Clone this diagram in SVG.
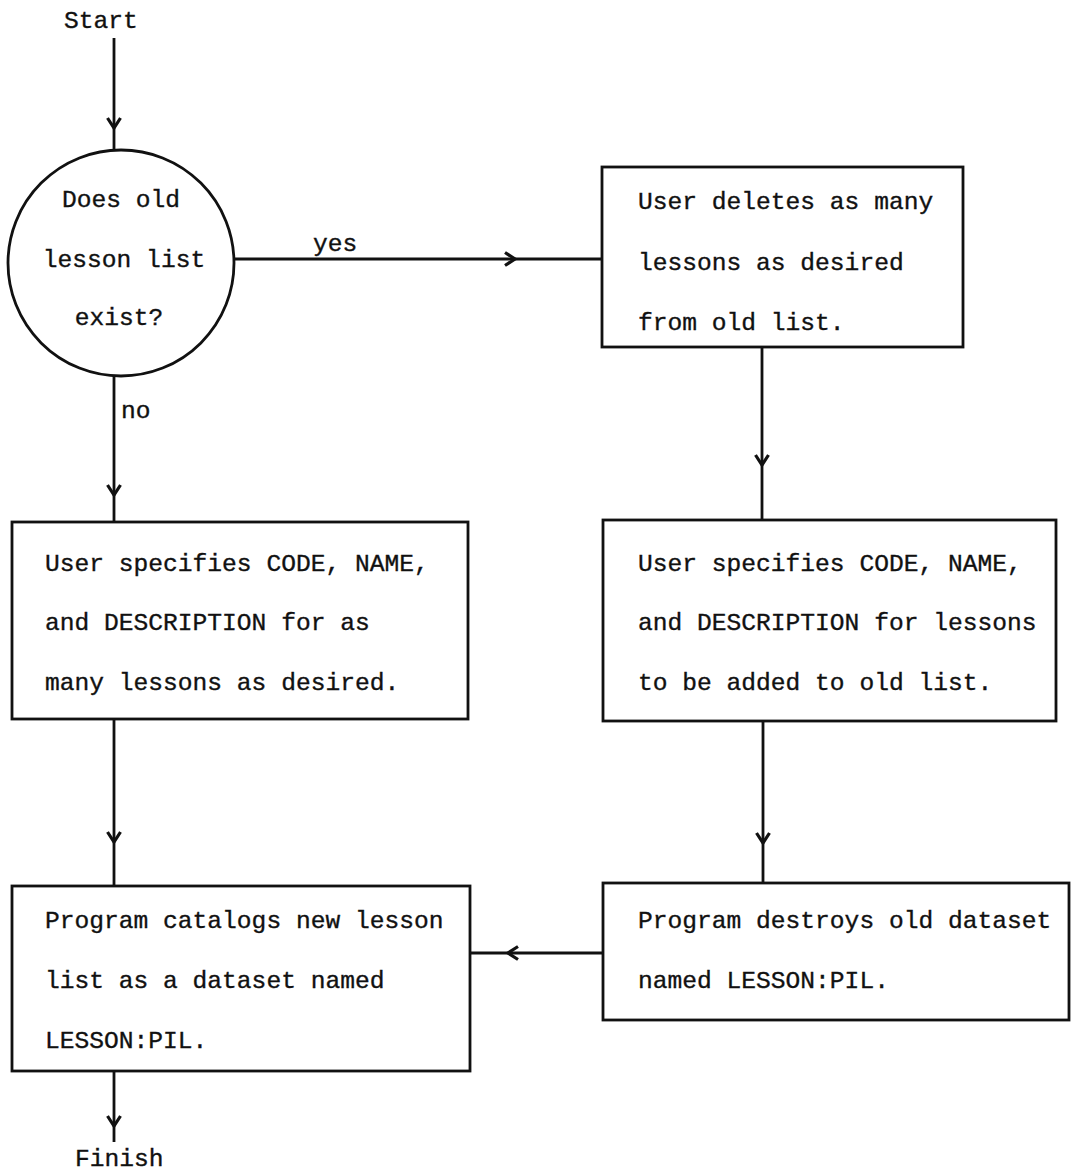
<svg xmlns="http://www.w3.org/2000/svg" width="1072" height="1172" viewBox="0 0 1072 1172">
<defs>
<style>
.t{font-family:"Liberation Mono","Courier New",monospace;font-size:24.6px;fill:#111;stroke:#111;stroke-width:0.35px;}
.box{fill:none;stroke:#111;stroke-width:2.8;}
.c{fill:none;stroke:#111;stroke-width:2.8;}
</style>
<marker id="ah" markerUnits="userSpaceOnUse" markerWidth="30" markerHeight="30" viewBox="-15 -15 30 30" refX="0" refY="0" orient="auto" overflow="visible">
<path d="M-10,-6.5 L0,0 L-10,6.5" fill="none" stroke="#111" stroke-width="3.2" stroke-linejoin="miter"/>
</marker>
</defs>
<rect width="1072" height="1172" fill="#fff"/>
<g id="start"><text class="t" x="64" y="28">Start</text></g>
<g id="decision">
<circle class="box" cx="121" cy="263" r="113"/>
<text class="t" x="121" y="207" text-anchor="middle">Does old</text>
<text class="t" x="124" y="267" text-anchor="middle">lesson list</text>
<text class="t" x="119" y="325" text-anchor="middle">exist?</text>
</g>
<g id="delete">
<rect class="box" x="602" y="167" width="361" height="180"/>
<text class="t" x="638" y="209">User deletes as many</text>
<text class="t" x="638" y="270">lessons as desired</text>
<text class="t" x="638" y="330">from old list.</text>
</g>
<g id="specify-new">
<rect class="box" x="12" y="522" width="456" height="197"/>
<text class="t" x="45" y="571">User specifies CODE, NAME,</text>
<text class="t" x="45" y="630">and DESCRIPTION for as</text>
<text class="t" x="45" y="690">many lessons as desired.</text>
</g>
<g id="specify-add">
<rect class="box" x="603" y="520" width="453" height="201"/>
<text class="t" x="638" y="571">User specifies CODE, NAME,</text>
<text class="t" x="638" y="630">and DESCRIPTION for lessons</text>
<text class="t" x="638" y="690">to be added to old list.</text>
</g>
<g id="catalog">
<rect class="box" x="12" y="886" width="458" height="185"/>
<text class="t" x="45" y="928">Program catalogs new lesson</text>
<text class="t" x="45" y="988">list as a dataset named</text>
<text class="t" x="45" y="1048">LESSON:PIL.</text>
</g>
<g id="destroy">
<rect class="box" x="603" y="883" width="466" height="137"/>
<text class="t" x="638" y="928">Program destroys old dataset</text>
<text class="t" x="638" y="988">named LESSON:PIL.</text>
</g>
<g id="finish"><text class="t" x="75" y="1166">Finish</text></g>
<g id="connectors">
<polyline class="c" points="114,38 114,128 114,150" marker-mid="url(#ah)"/>
<polyline class="c" points="234,259 515,259 602,259" marker-mid="url(#ah)"/>
<polyline class="c" points="114,376 114,495 114,522" marker-mid="url(#ah)"/>
<polyline class="c" points="762,347 762,465 762,520" marker-mid="url(#ah)"/>
<polyline class="c" points="114,719 114,842 114,886" marker-mid="url(#ah)"/>
<polyline class="c" points="763,721 763,843 763,883" marker-mid="url(#ah)"/>
<polyline class="c" points="603,953 508,953 470,953" marker-mid="url(#ah)"/>
<polyline class="c" points="114,1071 114,1126 114,1142" marker-mid="url(#ah)"/>
<text class="t" x="313" y="251">yes</text>
<text class="t" x="121" y="418">no</text>
</g>
</svg>
